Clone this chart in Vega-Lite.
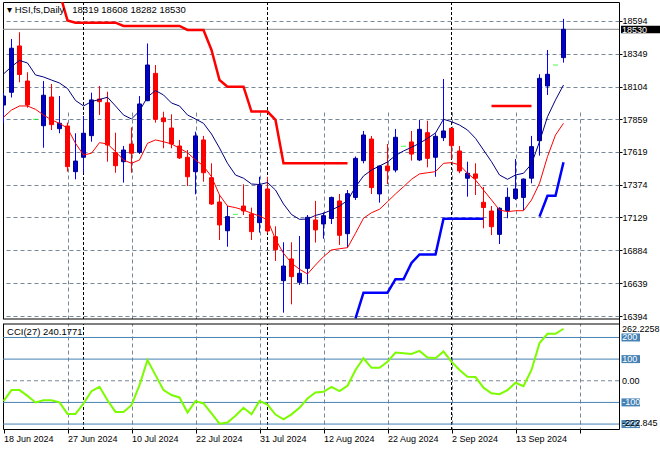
{
"$schema": "https://vega.github.io/schema/vega-lite/v6.json",
"background": "#ffffff",
"autosize": {"type": "none"},
"padding": {"left": 3, "top": 2, "right": 41, "bottom": 21},
"width": 616,
"height": 427,
"config": {
  "view": {"stroke": "#000000", "strokeWidth": 1},
  "font": "Liberation Sans",
  "axis": {"labelFont": "Liberation Sans", "labelFontSize": 9, "labelColor": "#000000", "tickColor": "#000000", "tickWidth": 1, "gridColor": "#778899", "gridDash": [4, 3], "gridWidth": 1, "gridOpacity": 1, "domain": false, "title": null},
  "scale": {"continuousPadding": 0}
},
"datasets": {
  "bars": [
{"i":0,"o":17966,"h":18056,"l":17832,"c":18033,"ma1":18197,"ma2":17875,"cci":-94},
{"i":1,"o":18061,"h":18458,"l":18022,"c":18389,"ma1":18252,"ma2":17929,"cci":-43},
{"i":2,"o":18406,"h":18508,"l":18135,"c":18193,"ma1":18298,"ma2":17959,"cci":-43},
{"i":3,"o":18145,"h":18210,"l":17946,"c":17966,"ma1":18279,"ma2":17959,"cci":-70},
{"i":4,"o":17860,"h":17860,"l":17860,"c":17860,"ma1":18190,"ma2":17934,"cci":-100},
{"i":5,"o":17812,"h":18145,"l":17648,"c":18039,"ma1":18175,"ma2":17892,"cci":-90},
{"i":6,"o":18026,"h":18123,"l":17780,"c":17820,"ma1":18152,"ma2":17855,"cci":-90},
{"i":7,"o":17790,"h":18033,"l":17756,"c":17830,"ma1":18130,"ma2":17830,"cci":-100},
{"i":8,"o":17810,"h":17835,"l":17470,"c":17507,"ma1":18089,"ma2":17793,"cci":-153},
{"i":9,"o":17470,"h":17756,"l":17413,"c":17549,"ma1":18000,"ma2":17681,"cci":-153},
{"i":10,"o":17577,"h":17884,"l":17462,"c":17756,"ma1":17959,"ma2":17594,"cci":-105},
{"i":11,"o":17738,"h":18058,"l":17693,"c":18004,"ma1":17992,"ma2":17607,"cci":-48},
{"i":12,"o":18011,"h":18108,"l":17892,"c":17991,"ma1":18007,"ma2":17686,"cci":-28},
{"i":13,"o":17983,"h":18065,"l":17544,"c":17668,"ma1":18024,"ma2":17676,"cci":-90},
{"i":14,"o":17611,"h":17760,"l":17462,"c":17514,"ma1":17959,"ma2":17619,"cci":-144},
{"i":15,"o":17544,"h":17661,"l":17388,"c":17631,"ma1":17892,"ma2":17557,"cci":-144},
{"i":16,"o":17676,"h":17800,"l":17462,"c":17607,"ma1":17862,"ma2":17532,"cci":-113},
{"i":17,"o":17614,"h":18033,"l":17601,"c":17974,"ma1":17922,"ma2":17557,"cci":-20},
{"i":18,"o":17998,"h":18424,"l":17996,"c":18264,"ma1":18026,"ma2":17681,"cci":96},
{"i":19,"o":18202,"h":18264,"l":17835,"c":17860,"ma1":18074,"ma2":17706,"cci":26},
{"i":20,"o":17870,"h":17916,"l":17644,"c":17842,"ma1":18041,"ma2":17693,"cci":-43},
{"i":21,"o":17795,"h":17897,"l":17644,"c":17676,"ma1":17981,"ma2":17676,"cci":-66},
{"i":22,"o":17661,"h":17706,"l":17564,"c":17572,"ma1":17959,"ma2":17644,"cci":-77},
{"i":23,"o":17577,"h":17631,"l":17363,"c":17432,"ma1":17892,"ma2":17611,"cci":-147},
{"i":24,"o":17470,"h":17768,"l":17301,"c":17736,"ma1":17862,"ma2":17557,"cci":-94},
{"i":25,"o":17706,"h":17736,"l":17395,"c":17462,"ma1":17830,"ma2":17512,"cci":-105},
{"i":26,"o":17425,"h":17532,"l":17222,"c":17229,"ma1":17750,"ma2":17432,"cci":-151},
{"i":27,"o":17244,"h":17296,"l":16961,"c":17073,"ma1":17646,"ma2":17296,"cci":-198},
{"i":28,"o":17030,"h":17214,"l":16911,"c":17135,"ma1":17532,"ma2":17214,"cci":-193},
{"i":29,"o":17152,"h":17152,"l":17152,"c":17152,"ma1":17445,"ma2":17202,"cci":-162},
{"i":30,"o":17214,"h":17376,"l":17147,"c":17177,"ma1":17421,"ma2":17184,"cci":-125},
{"i":31,"o":17155,"h":17202,"l":16961,"c":17023,"ma1":17378,"ma2":17160,"cci":-155},
{"i":32,"o":17090,"h":17432,"l":17016,"c":17368,"ma1":17374,"ma2":17140,"cci":-94},
{"i":33,"o":17341,"h":17432,"l":17011,"c":17028,"ma1":17389,"ma2":17110,"cci":-110},
{"i":34,"o":16986,"h":17063,"l":16805,"c":16889,"ma1":17333,"ma2":16966,"cci":-156},
{"i":35,"o":16658,"h":16944,"l":16420,"c":16767,"ma1":17229,"ma2":16862,"cci":-178},
{"i":36,"o":16820,"h":16944,"l":16482,"c":16688,"ma1":17151,"ma2":16790,"cci":-155},
{"i":37,"o":16646,"h":16991,"l":16626,"c":16713,"ma1":17115,"ma2":16743,"cci":-125},
{"i":38,"o":16750,"h":17147,"l":16631,"c":17130,"ma1":17117,"ma2":16708,"cci":-82},
{"i":39,"o":17110,"h":17252,"l":16942,"c":17036,"ma1":17144,"ma2":16775,"cci":-54},
{"i":40,"o":17080,"h":17166,"l":16970,"c":17142,"ma1":17160,"ma2":16837,"cci":-51},
{"i":41,"o":17121,"h":17284,"l":17080,"c":17278,"ma1":17184,"ma2":16887,"cci":-28},
{"i":42,"o":17252,"h":17304,"l":16924,"c":16996,"ma1":17214,"ma2":16896,"cci":-48},
{"i":43,"o":17008,"h":17333,"l":16904,"c":17306,"ma1":17255,"ma2":16904,"cci":-23},
{"i":44,"o":17278,"h":17583,"l":17259,"c":17569,"ma1":17356,"ma2":17011,"cci":50},
{"i":45,"o":17552,"h":17773,"l":17532,"c":17743,"ma1":17438,"ma2":17123,"cci":104},
{"i":46,"o":17713,"h":17736,"l":17304,"c":17351,"ma1":17482,"ma2":17164,"cci":60},
{"i":47,"o":17304,"h":17516,"l":17239,"c":17512,"ma1":17512,"ma2":17190,"cci":60},
{"i":48,"o":17512,"h":17676,"l":17377,"c":17477,"ma1":17542,"ma2":17246,"cci":88},
{"i":49,"o":17482,"h":17788,"l":17465,"c":17726,"ma1":17590,"ma2":17304,"cci":130},
{"i":50,"o":17659,"h":17659,"l":17659,"c":17659,"ma1":17624,"ma2":17358,"cci":127},
{"i":51,"o":17691,"h":17773,"l":17552,"c":17601,"ma1":17651,"ma2":17413,"cci":124},
{"i":52,"o":17557,"h":17855,"l":17549,"c":17785,"ma1":17681,"ma2":17453,"cci":138},
{"i":53,"o":17760,"h":17849,"l":17502,"c":17569,"ma1":17718,"ma2":17462,"cci":107},
{"i":54,"o":17577,"h":17756,"l":17432,"c":17733,"ma1":17758,"ma2":17470,"cci":104},
{"i":55,"o":17723,"h":18160,"l":17698,"c":17773,"ma1":17860,"ma2":17532,"cci":135},
{"i":56,"o":17793,"h":17795,"l":17565,"c":17663,"ma1":17842,"ma2":17537,"cci":88},
{"i":57,"o":17624,"h":17661,"l":17458,"c":17475,"ma1":17817,"ma2":17520,"cci":50},
{"i":58,"o":17421,"h":17544,"l":17284,"c":17458,"ma1":17780,"ma2":17458,"cci":19},
{"i":59,"o":17453,"h":17532,"l":17296,"c":17421,"ma1":17718,"ma2":17408,"cci":17},
{"i":60,"o":17242,"h":17356,"l":17048,"c":17203,"ma1":17631,"ma2":17333,"cci":-32},
{"i":61,"o":17177,"h":17214,"l":16998,"c":17060,"ma1":17544,"ma2":17259,"cci":-58},
{"i":62,"o":17003,"h":17205,"l":16931,"c":17197,"ma1":17445,"ma2":17184,"cci":-62},
{"i":63,"o":17181,"h":17351,"l":17123,"c":17279,"ma1":17413,"ma2":17172,"cci":-43},
{"i":64,"o":17270,"h":17564,"l":17259,"c":17341,"ma1":17445,"ma2":17179,"cci":-9},
{"i":65,"o":17278,"h":17419,"l":17184,"c":17415,"ma1":17458,"ma2":17179,"cci":-25},
{"i":66,"o":17421,"h":17736,"l":17383,"c":17656,"ma1":17527,"ma2":17259,"cci":50},
{"i":67,"o":17700,"h":18195,"l":17589,"c":18165,"ma1":17693,"ma2":17383,"cci":174},
{"i":68,"o":18108,"h":18376,"l":18041,"c":18195,"ma1":17879,"ma2":17582,"cci":217},
{"i":69,"o":18264,"h":18264,"l":18264,"c":18264,"ma1":18004,"ma2":17743,"cci":217},
{"i":70,"o":18319,"h":18608,"l":18282,"c":18530,"ma1":18115,"ma2":17830,"cci":240.1771}
  ],
  "stops": [
{"i":7,"v":18802,"s":"dn","g":"r1"},{"i":8,"v":18596,"s":"dn","g":"r1"},{"i":9,"v":18579,"s":"dn","g":"r1"},{"i":10,"v":18579,"s":"dn","g":"r1"},{"i":11,"v":18579,"s":"dn","g":"r1"},{"i":12,"v":18579,"s":"dn","g":"r1"},{"i":13,"v":18579,"s":"dn","g":"r1"},{"i":14,"v":18579,"s":"dn","g":"r1"},
{"i":15,"v":18555,"s":"dn","g":"r1"},{"i":16,"v":18555,"s":"dn","g":"r1"},{"i":17,"v":18555,"s":"dn","g":"r1"},{"i":18,"v":18555,"s":"dn","g":"r1"},{"i":19,"v":18555,"s":"dn","g":"r1"},{"i":20,"v":18555,"s":"dn","g":"r1"},{"i":21,"v":18555,"s":"dn","g":"r1"},{"i":22,"v":18555,"s":"dn","g":"r1"},
{"i":23,"v":18525,"s":"dn","g":"r1"},{"i":24,"v":18525,"s":"dn","g":"r1"},{"i":25,"v":18525,"s":"dn","g":"r1"},{"i":26,"v":18376,"s":"dn","g":"r1"},{"i":27,"v":18152,"s":"dn","g":"r1"},
{"i":28,"v":18103,"s":"dn","g":"r1"},{"i":29,"v":18103,"s":"dn","g":"r1"},{"i":30,"v":18103,"s":"dn","g":"r1"},{"i":31,"v":17917,"s":"dn","g":"r1"},{"i":32,"v":17917,"s":"dn","g":"r1"},{"i":33,"v":17917,"s":"dn","g":"r1"},{"i":34,"v":17855,"s":"dn","g":"r1"},
{"i":35,"v":17532,"s":"dn","g":"r1"},{"i":36,"v":17532,"s":"dn","g":"r1"},{"i":37,"v":17532,"s":"dn","g":"r1"},{"i":38,"v":17532,"s":"dn","g":"r1"},{"i":39,"v":17532,"s":"dn","g":"r1"},{"i":40,"v":17532,"s":"dn","g":"r1"},{"i":41,"v":17532,"s":"dn","g":"r1"},{"i":42,"v":17532,"s":"dn","g":"r1"},{"i":43,"v":17532,"s":"dn","g":"r1"},
{"i":44,"v":16378,"s":"up","g":"b1"},{"i":45,"v":16569,"s":"up","g":"b1"},{"i":46,"v":16569,"s":"up","g":"b1"},{"i":47,"v":16569,"s":"up","g":"b1"},{"i":48,"v":16569,"s":"up","g":"b1"},{"i":49,"v":16669,"s":"up","g":"b1"},{"i":50,"v":16669,"s":"up","g":"b1"},{"i":51,"v":16790,"s":"up","g":"b1"},
{"i":52,"v":16853,"s":"up","g":"b1"},{"i":53,"v":16853,"s":"up","g":"b1"},{"i":54,"v":16853,"s":"up","g":"b1"},{"i":55,"v":17120,"s":"up","g":"b1"},{"i":56,"v":17120,"s":"up","g":"b1"},{"i":57,"v":17120,"s":"up","g":"b1"},{"i":58,"v":17120,"s":"up","g":"b1"},{"i":59,"v":17120,"s":"up","g":"b1"},{"i":60,"v":17120,"s":"up","g":"b1"},
{"i":61,"v":17959,"s":"dn","g":"r2"},{"i":62,"v":17959,"s":"dn","g":"r2"},{"i":63,"v":17959,"s":"dn","g":"r2"},{"i":64,"v":17959,"s":"dn","g":"r2"},{"i":65,"v":17959,"s":"dn","g":"r2"},{"i":66,"v":17959,"s":"dn","g":"r2"},
{"i":67,"v":17135,"s":"up","g":"b2"},{"i":68,"v":17291,"s":"up","g":"b2"},{"i":69,"v":17291,"s":"up","g":"b2"},{"i":70,"v":17540,"s":"up","g":"b2"}
  ],
  "seps": [{"i":10,"month":"Jul"},{"i":33,"month":"Aug"},{"i":56,"month":"Sep"}],
  "levels": [{"v":200,"lab":"200"},{"v":100,"lab":"100"},{"v":-100,"lab":"-100"},{"v":-200,"lab":"-200"}]
},
"resolve": {"scale": {"y": "independent"}, "axis": {"y": "independent"}},
"layer": [
 {
  "layer": [
   {"data": {"name": "bars"}, "transform": [{"filter": "datum.i === 70"}],
    "mark": {"type": "rule", "color": "#8a8a8a", "strokeWidth": 1},
    "encoding": {"y": {"field": "c", "type": "quantitative", "scale": {"domain": [16372.8, 18733.2], "nice": false, "zero": false, "range": [317, 0]},
      "axis": {"orient": "right", "values": [16394, 16639, 16884, 17129, 17374, 17619, 17859, 18104, 18349, 18594], "format": "d", "grid": true, "ticks": true, "tickSize": 3, "labelPadding": 0, "labelOverlap": false, "labelBaseline": "middle", "labelAlign": "left"}}}},
   {"data": {"name": "seps"},
    "mark": {"type": "rule", "color": "#000000", "strokeDash": [3, 2], "strokeWidth": 1},
    "encoding": {"x": {"field": "i", "type": "quantitative", "scale": {"domain": [-0.0625, 76.9375], "nice": false, "zero": false, "padding": 0},
      "axis": {"values": [0, 4, 8, 12, 16, 20, 24, 28, 32, 36, 40, 44, 48, 52, 56, 60, 64, 68, 72, 76], "grid": true,
        "gridOpacity": {"condition": {"test": "datum.value === 0", "value": 0}, "value": 1},
        "ticks": true, "tickSize": 4,
        "tickOpacity": {"condition": {"test": "datum.value % 8 === 0", "value": 1}, "value": 0},
        "labelExpr": "datum.value % 8 === 0 ? ['18 Jun 2024','27 Jun 2024','10 Jul 2024','22 Jul 2024','31 Jul 2024','12 Aug 2024','22 Aug 2024','2 Sep 2024','13 Sep 2024','',''][datum.value / 8] : ''",
        "labelAlign": "left", "labelBaseline": "top", "labelPadding": 1, "labelFlush": false, "labelOverlap": false}}}},
   {"data": {"name": "bars"}, "transform": [{"filter": "datum.h > datum.l"}],
    "mark": {"type": "rule", "strokeWidth": 1, "clip": true},
    "encoding": {
      "x": {"field": "i", "type": "quantitative", "scale": {"domain": [-0.0625, 76.9375], "nice": false, "zero": false, "padding": 0}},
      "y": {"field": "l", "type": "quantitative", "scale": {"domain": [16372.8, 18733.2], "nice": false, "zero": false, "range": [317, 0]}},
      "y2": {"field": "h"},
      "color": {"condition": {"test": "datum.c >= datum.o", "value": "#0000FF"}, "value": "#FF0000"}}},
   {"data": {"name": "bars"}, "transform": [{"filter": "datum.h > datum.l"}],
    "mark": {"type": "bar", "width": 4, "strokeWidth": 1, "clip": true},
    "encoding": {
      "x": {"field": "i", "type": "quantitative", "scale": {"domain": [-0.0625, 76.9375], "nice": false, "zero": false, "padding": 0}},
      "y": {"field": "o", "type": "quantitative", "scale": {"domain": [16372.8, 18733.2], "nice": false, "zero": false, "range": [317, 0]}},
      "y2": {"field": "c"},
      "fill": {"condition": {"test": "datum.c >= datum.o", "value": "#0000CC"}, "value": "#FF0000"},
      "stroke": {"condition": {"test": "datum.c >= datum.o", "value": "#00008B"}, "value": "#FF0000"}}},
   {"data": {"name": "bars"}, "transform": [{"filter": "datum.h === datum.l"}],
    "mark": {"type": "tick", "orient": "horizontal", "color": "#00FF00", "size": 5, "thickness": 1},
    "encoding": {
      "x": {"field": "i", "type": "quantitative", "scale": {"domain": [-0.0625, 76.9375], "nice": false, "zero": false, "padding": 0}},
      "y": {"field": "c", "type": "quantitative", "scale": {"domain": [16372.8, 18733.2], "nice": false, "zero": false, "range": [317, 0]}}}},
   {"data": {"name": "bars"},
    "mark": {"type": "line", "color": "#000080", "strokeWidth": 1, "clip": true},
    "encoding": {
      "x": {"field": "i", "type": "quantitative", "scale": {"domain": [-0.0625, 76.9375], "nice": false, "zero": false, "padding": 0}},
      "y": {"field": "ma1", "type": "quantitative", "scale": {"domain": [16372.8, 18733.2], "nice": false, "zero": false, "range": [317, 0]}}}},
   {"data": {"name": "bars"},
    "mark": {"type": "line", "color": "#FF0000", "strokeWidth": 1, "clip": true},
    "encoding": {
      "x": {"field": "i", "type": "quantitative", "scale": {"domain": [-0.0625, 76.9375], "nice": false, "zero": false, "padding": 0}},
      "y": {"field": "ma2", "type": "quantitative", "scale": {"domain": [16372.8, 18733.2], "nice": false, "zero": false, "range": [317, 0]}}}},
   {"data": {"name": "stops"},
    "mark": {"type": "line", "strokeWidth": 2.5, "clip": true},
    "encoding": {
      "x": {"field": "i", "type": "quantitative", "scale": {"domain": [-0.0625, 76.9375], "nice": false, "zero": false, "padding": 0}},
      "y": {"field": "v", "type": "quantitative", "scale": {"domain": [16372.8, 18733.2], "nice": false, "zero": false, "range": [317, 0]}},
      "color": {"field": "s", "type": "nominal", "scale": {"domain": ["dn", "up"], "range": ["#FF0000", "#0000FF"]}, "legend": null},
      "detail": {"field": "g"}}},
   {"data": {"values": [{"edge": 16372.8}]},
    "mark": {"type": "rect", "color": "#FFFFFF", "y2Offset": 5},
    "encoding": {
      "x": {"datum": -0.0625, "type": "quantitative", "scale": {"domain": [-0.0625, 76.9375], "nice": false, "zero": false, "padding": 0}},
      "x2": {"datum": 76.9375},
      "y": {"field": "edge", "type": "quantitative", "scale": {"domain": [16372.8, 18733.2], "nice": false, "zero": false, "range": [317, 0]}},
      "y2": {"field": "edge"}}},
   {"data": {"values": [{"edge": 16372.8}]},
    "mark": {"type": "rule", "color": "#000000", "strokeWidth": 1},
    "encoding": {
      "y": {"field": "edge", "type": "quantitative", "scale": {"domain": [16372.8, 18733.2], "nice": false, "zero": false, "range": [317, 0]}}}},
   {"data": {"name": "bars"}, "transform": [{"filter": "datum.i === 70"}],
    "mark": {"type": "rect", "color": "#000000", "yOffset": -3.5, "y2Offset": 4},
    "encoding": {
      "x": {"datum": 77.19, "type": "quantitative", "scale": {"domain": [-0.0625, 76.9375], "nice": false, "zero": false, "padding": 0}},
      "x2": {"datum": 82.1},
      "y": {"field": "c", "type": "quantitative", "scale": {"domain": [16372.8, 18733.2], "nice": false, "zero": false, "range": [317, 0]}},
      "y2": {"field": "c"}}},
   {"data": {"name": "bars"}, "transform": [{"filter": "datum.i === 70"}],
    "mark": {"type": "text", "color": "#FFFFFF", "align": "left", "baseline": "middle", "dy": 0.5, "fontSize": 9, "font": "Liberation Sans"},
    "encoding": {
      "x": {"datum": 77.3, "type": "quantitative", "scale": {"domain": [-0.0625, 76.9375], "nice": false, "zero": false, "padding": 0}},
      "y": {"field": "c", "type": "quantitative", "scale": {"domain": [16372.8, 18733.2], "nice": false, "zero": false, "range": [317, 0]}},
      "text": {"field": "c", "type": "quantitative", "format": "d"}}},
   {"data": {"values": [{"top": 18733.2, "label": "▾\u00a0HSI,fs,Daily\u00a0\u00a0\u00a018319 18608 18282 18530"}]},
    "mark": {"type": "text", "color": "#000000", "align": "left", "baseline": "alphabetic", "dy": 11, "fontSize": 9.5, "font": "Liberation Sans"},
    "encoding": {
      "x": {"datum": 0.45, "type": "quantitative", "scale": {"domain": [-0.0625, 76.9375], "nice": false, "zero": false, "padding": 0}},
      "y": {"field": "top", "type": "quantitative", "scale": {"domain": [16372.8, 18733.2], "nice": false, "zero": false, "range": [317, 0]}},
      "text": {"field": "label"}}}
  ]
 },
 {
  "layer": [
   {"data": {"values": [{"lvl": 0}]},
    "mark": {"type": "rule", "color": "#778899", "strokeDash": [4, 3], "strokeWidth": 1},
    "encoding": {"y": {"field": "lvl", "type": "quantitative", "scale": {"domain": [-222.845, 262.2258], "nice": false, "zero": false, "range": [427, 322]}, "axis": null}}},
   {"data": {"name": "levels"},
    "mark": {"type": "rule", "color": "#4682B4", "strokeWidth": 1},
    "encoding": {"y": {"field": "v", "type": "quantitative", "scale": {"domain": [-222.845, 262.2258], "nice": false, "zero": false, "range": [427, 322]}, "axis": null}}},
   {"data": {"values": [{"edge": 262.2258}]},
    "mark": {"type": "rule", "color": "#000000", "strokeWidth": 1},
    "encoding": {"y": {"field": "edge", "type": "quantitative", "scale": {"domain": [-222.845, 262.2258], "nice": false, "zero": false, "range": [427, 322]}, "axis": null}}},
   {"data": {"name": "bars"},
    "mark": {"type": "line", "color": "#7CFC00", "strokeWidth": 2},
    "encoding": {
      "x": {"field": "i", "type": "quantitative", "scale": {"domain": [-0.0625, 76.9375], "nice": false, "zero": false, "padding": 0}},
      "y": {"field": "cci", "type": "quantitative", "scale": {"domain": [-222.845, 262.2258], "nice": false, "zero": false, "range": [427, 322]}, "axis": null}}},
   {"data": {"name": "levels"},
    "mark": {"type": "rect", "color": "#4682B4", "yOffset": -4, "y2Offset": 4},
    "encoding": {
      "x": {"datum": 77.25, "type": "quantitative", "scale": {"domain": [-0.0625, 76.9375], "nice": false, "zero": false, "padding": 0}},
      "x2": {"datum": 79.56},
      "y": {"field": "v", "type": "quantitative", "scale": {"domain": [-222.845, 262.2258], "nice": false, "zero": false, "range": [427, 322]}, "axis": null},
      "y2": {"field": "v"}}},
   {"data": {"name": "levels"},
    "mark": {"type": "text", "color": "#FFFFFF", "align": "left", "baseline": "middle", "fontSize": 9, "font": "Liberation Sans"},
    "encoding": {
      "x": {"datum": 77.35, "type": "quantitative", "scale": {"domain": [-0.0625, 76.9375], "nice": false, "zero": false, "padding": 0}},
      "y": {"field": "v", "type": "quantitative", "scale": {"domain": [-222.845, 262.2258], "nice": false, "zero": false, "range": [427, 322]}, "axis": null},
      "text": {"field": "lab"}}},
   {"data": {"values": [{"v": 262.2258, "lab": "262.2258"}]},
    "mark": {"type": "text", "color": "#000000", "align": "left", "baseline": "middle", "dy": 4.5, "fontSize": 9, "font": "Liberation Sans"},
    "encoding": {
      "x": {"datum": 77.31, "type": "quantitative", "scale": {"domain": [-0.0625, 76.9375], "nice": false, "zero": false, "padding": 0}},
      "y": {"field": "v", "type": "quantitative", "scale": {"domain": [-222.845, 262.2258], "nice": false, "zero": false, "range": [427, 322]}, "axis": null},
      "text": {"field": "lab"}}},
   {"data": {"values": [{"v": 0, "lab": "0.00"}]},
    "mark": {"type": "text", "color": "#000000", "align": "left", "baseline": "middle", "fontSize": 9, "font": "Liberation Sans"},
    "encoding": {
      "x": {"datum": 77.31, "type": "quantitative", "scale": {"domain": [-0.0625, 76.9375], "nice": false, "zero": false, "padding": 0}},
      "y": {"field": "v", "type": "quantitative", "scale": {"domain": [-222.845, 262.2258], "nice": false, "zero": false, "range": [427, 322]}, "axis": null},
      "text": {"field": "lab"}}},
   {"data": {"values": [{"v": -222.845, "lab": "-222.845"}]},
    "mark": {"type": "text", "color": "#000000", "align": "left", "baseline": "middle", "dy": -6.5, "fontSize": 9, "font": "Liberation Sans"},
    "encoding": {
      "x": {"datum": 77.31, "type": "quantitative", "scale": {"domain": [-0.0625, 76.9375], "nice": false, "zero": false, "padding": 0}},
      "y": {"field": "v", "type": "quantitative", "scale": {"domain": [-222.845, 262.2258], "nice": false, "zero": false, "range": [427, 322]}, "axis": null},
      "text": {"field": "lab"}}},
   {"data": {"values": [{"v": 262.2258, "label": "CCI(27) 240.1771"}]},
    "mark": {"type": "text", "color": "#000000", "align": "left", "baseline": "alphabetic", "dy": 11, "fontSize": 9.5, "font": "Liberation Sans"},
    "encoding": {
      "x": {"datum": 0.45, "type": "quantitative", "scale": {"domain": [-0.0625, 76.9375], "nice": false, "zero": false, "padding": 0}},
      "y": {"field": "v", "type": "quantitative", "scale": {"domain": [-222.845, 262.2258], "nice": false, "zero": false, "range": [427, 322]}, "axis": null},
      "text": {"field": "label"}}}
  ]
 }
]
}
